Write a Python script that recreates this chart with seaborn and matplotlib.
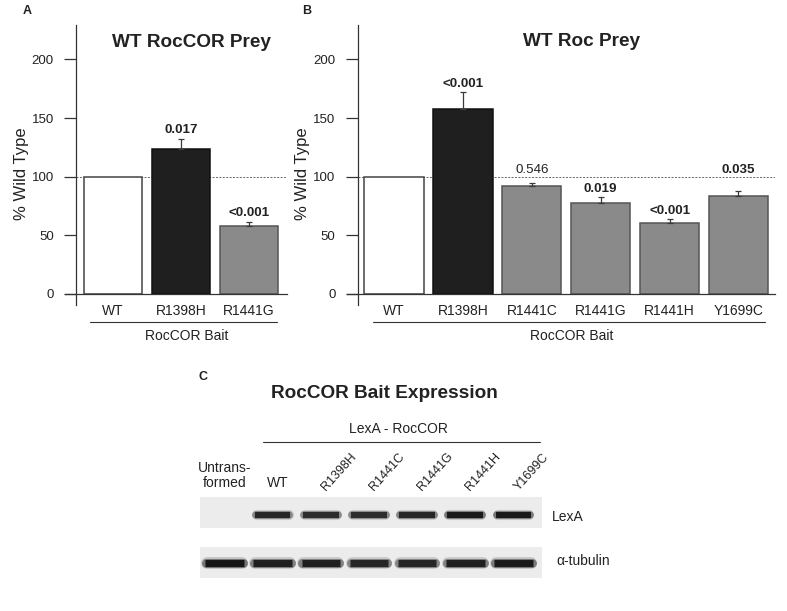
import matplotlib
matplotlib.use('Agg')
import matplotlib.pyplot as plt
import seaborn as sns

sns.set_theme(style='white')
plt.rcParams['font.family'] = ['Liberation Sans', 'DejaVu Sans']
plt.rcParams['text.color'] = '#222222'

# A: WT RocCOR prey
a_bait = ['WT', 'R1398H', 'R1441G']
a_pct = [100, 123.5, 58.2]
a_err = [0, 9.0, 3.4]
a_p = ['', '0.017', '<0.001']
a_sig = [False, True, True]

# B: WT Roc prey
b_bait = ['WT', 'R1398H', 'R1441C', 'R1441G', 'R1441H', 'Y1699C']
b_pct = [100, 157.8, 92.3, 77.8, 60.7, 83.5]
b_err = [0, 14.0, 2.5, 4.8, 3.4, 4.5]
b_p = ['', '<0.001', '0.546', '0.019', '<0.001', '0.035']
b_sig = [False, True, False, True, True, True]

# C: blot, relative band intensity per lane
lanes = ['Untrans-\nformed', 'WT', 'R1398H', 'R1441C', 'R1441G', 'R1441H', 'Y1699C']
lexa = [0.0, 0.85, 0.8, 0.8, 0.85, 0.95, 0.95]
tubulin = [1.0, 0.9, 0.9, 0.85, 0.85, 0.9, 0.95]

W, H = 787, 611
fig = plt.figure(figsize=(W / 100, H / 100), dpi=100)
fig.patch.set_facecolor('white')


def box(l, t, r, b):
    return [l / W, 1 - b / H, (r - l) / W, (b - t) / H]


def ftext(x, y, s, **kw):
    fig.text(x / W, 1 - y / H, s, **kw)


def fline(x0, x1, y):
    fig.add_artist(plt.Line2D([x0 / W, x1 / W], [1 - y / H, 1 - y / H], color='#333333', lw=0.8))


def bar_panel(rect, bait, pct, err, pvals, sig, xlim, yspine_x):
    ax = fig.add_axes(rect)
    face = ['white' if b == 'WT' else '#1f1f1f' if b == 'R1398H' else '#8a8a8a' for b in bait]
    edge = ['#444444' if b == 'WT' else '#111111' if b == 'R1398H' else '#555555' for b in bait]
    sns.barplot(x=bait, y=pct, hue=bait, palette=face, legend=False, width=0.86,
                saturation=1, ax=ax, zorder=2)
    for patch, e in zip(ax.patches, edge):
        patch.set_edgecolor(e)
        patch.set_linewidth(1.1)
    idx = [i for i, e in enumerate(err) if e > 0]
    ax.errorbar(idx, [pct[i] for i in idx], yerr=[[0] * len(idx), [err[i] for i in idx]],
                fmt='none', ecolor='#3a3a3a', elinewidth=0.9, capsize=2, capthick=0.9, zorder=3)
    ax.plot([yspine_x, xlim[1]], [100, 100], ls=(0, (2, 1.5)), lw=0.7, color='#666666', zorder=1)
    for i in idx:
        y = pct[i] + err[i] + 4.5
        # lift the label clear of the 100% reference line
        if y < 100 < y + 9:
            y = 102.8
        ax.text(i, y, pvals[i], ha='center', va='baseline', fontsize=9.6,
                fontweight='bold' if sig[i] else 'normal')
    ax.set_xlim(xlim)
    ax.set_ylim(-9.4, 229.3)
    ax.set_yticks([0, 50, 100, 150, 200])
    ax.set_xlabel('')
    ax.set_ylabel('')
    sns.despine(ax=ax)
    ax.spines['left'].set_position(('data', yspine_x))
    ax.spines['bottom'].set_position(('data', 0))
    for s in ['left', 'bottom']:
        ax.spines[s].set_color('#333333')
        ax.spines[s].set_linewidth(0.9)
    ax.tick_params(axis='y', left=True, direction='out', length=9, width=0.9,
                   color='#333333', pad=7, labelsize=9.5, labelcolor='#222222')
    ax.tick_params(axis='x', bottom=False, length=0, pad=7.5, labelsize=10, labelcolor='#222222')
    ax.patch.set_alpha(0)
    return ax


bar_panel(box(65, 25, 287, 305), a_bait, a_pct, a_err, a_p, a_sig, (-0.703, 2.562), -0.541)
bar_panel(box(346.7, 25, 775, 305), b_bait, b_pct, b_err, b_p, b_sig, (-0.687, 5.53), -0.527)

ftext(23, 14, 'A', fontsize=9, fontweight='bold')
ftext(302, 13.5, 'B', fontsize=9, fontweight='bold')
ftext(191.7, 46.7, 'WT RocCOR Prey', ha='center', va='baseline', fontsize=13.7, fontweight='bold')
ftext(581.5, 46, 'WT Roc Prey', ha='center', va='baseline', fontsize=13.7, fontweight='bold')
ftext(21.5, 174, '% Wild Type', rotation=90, ha='center', va='center', fontsize=12)
ftext(303, 174, '% Wild Type', rotation=90, ha='center', va='center', fontsize=12)
fline(90, 277, 322)
fline(373, 765, 322)
ftext(187, 340, 'RocCOR Bait', ha='center', va='baseline', fontsize=10)
ftext(572, 340, 'RocCOR Bait', ha='center', va='baseline', fontsize=10)

# C: western blot
ftext(199, 380, 'C', fontsize=9, fontweight='bold')
ftext(384, 398, 'RocCOR Bait Expression', ha='center', va='baseline', fontsize=13.7, fontweight='bold')
ftext(398, 433, 'LexA - RocCOR', ha='center', va='baseline', fontsize=10)
fline(263, 540, 442)


def draw_bands(ax, vals, y, half, thick):
    for i, v in enumerate(vals):
        if v <= 0:
            continue
        # soft halo with rounded ends, then a sharp core
        for k, a, h in [(1.7, 0.18, half - 0.04), (1.3, 0.45, half - 0.02)]:
            ax.plot([i - h, i + h], [y, y], lw=thick * k, color='#151515',
                    alpha=a * v, solid_capstyle='round')
        ax.plot([i - half, i + half], [y, y], lw=thick, color='#151515',
                alpha=v, solid_capstyle='butt')


blots = []
for rect, vals, y, half, thick in [(box(200, 496.7, 541.7, 528), lexa, 0.415, 0.37, 4.3),
                                   (box(200, 546.7, 541.7, 578), tubulin, 0.47, 0.40, 5.0)]:
    bx = fig.add_axes(rect)
    bx.set_facecolor('#ececec')
    draw_bands(bx, vals, y, half, thick)
    bx.set_xlim(-0.508, 6.587)
    bx.set_ylim(0, 1)
    bx.set_xticks([])
    bx.set_yticks([])
    for s in bx.spines.values():
        s.set_visible(False)
    blots.append(bx)

top = blots[0]
for i, lab in enumerate(lanes):
    if i < 2:
        top.text(i + 0.1 * i, 1.214, lab, transform=top.get_xaxis_transform(), ha='center',
                 va='bottom', fontsize=10, linespacing=1.08)
    else:
        top.text(i + 0.1, 1.19, lab, transform=top.get_xaxis_transform(), rotation=48,
                 rotation_mode='anchor', ha='left', va='baseline', fontsize=9)

ftext(551.7, 521, 'LexA', ha='left', va='baseline', fontsize=10)
ftext(556.7, 565, 'α-tubulin', ha='left', va='baseline', fontsize=10)

fig.savefig('out.png', dpi=100, facecolor='white')
